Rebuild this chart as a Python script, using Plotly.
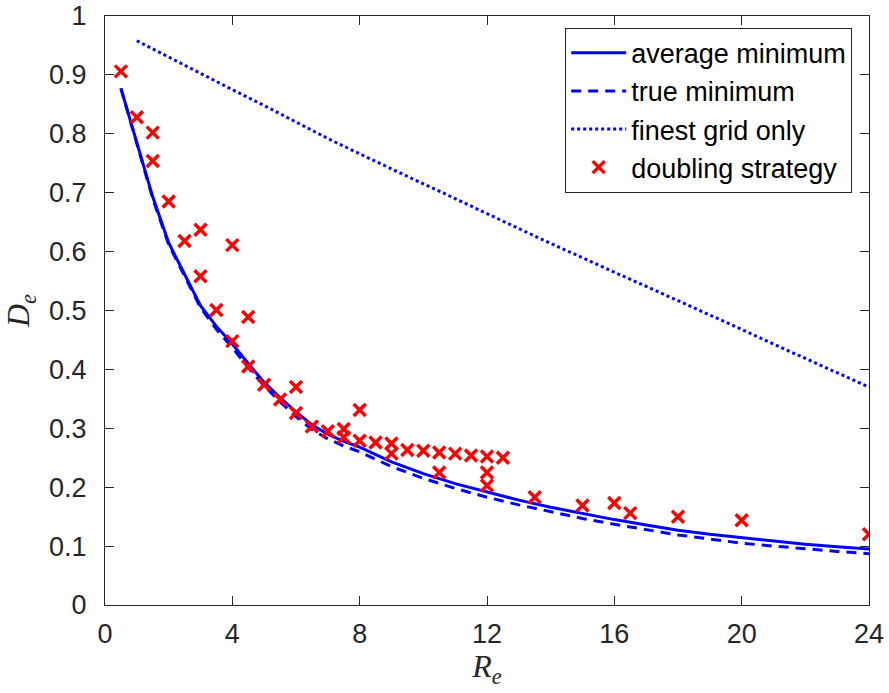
import plotly.graph_objects as go

# Average minimum of D_e over R_e
avg_x = [0.5, 1, 1.5, 2, 2.5, 3, 3.5, 4, 4.5, 5, 5.5, 6, 6.5, 7, 7.5, 8, 9, 10,
         11, 12, 13, 14, 15, 16, 17, 18, 19, 20, 21, 22, 23, 24]
avg_y = [0.877, 0.785, 0.693, 0.615, 0.562, 0.508, 0.473, 0.443, 0.410, 0.378,
         0.352, 0.328, 0.306, 0.290, 0.278, 0.268, 0.243, 0.223, 0.206, 0.192,
         0.178, 0.166, 0.155, 0.145, 0.136, 0.127, 0.120, 0.114, 0.108, 0.103,
         0.099, 0.095]

# True minimum
true_x = avg_x
true_y = [0.877, 0.785, 0.690, 0.612, 0.558, 0.505, 0.468, 0.437, 0.403, 0.372,
          0.345, 0.320, 0.298, 0.282, 0.270, 0.260, 0.235, 0.215, 0.198, 0.183,
          0.170, 0.158, 0.147, 0.137, 0.128, 0.119, 0.112, 0.105, 0.100, 0.095,
          0.091, 0.087]

# Finest grid only
fine_x = list(range(1, 25))
fine_y = [0.958, 0.930, 0.902, 0.875, 0.848, 0.820, 0.792, 0.766, 0.740, 0.715,
          0.690, 0.664, 0.639, 0.614, 0.589, 0.565, 0.541, 0.517, 0.493, 0.468,
          0.443, 0.419, 0.394, 0.370]

# Doubling strategy samples
dbl_x = [0.5, 1, 1.5, 1.5, 2, 2.5, 3, 3, 3.5, 4, 4, 4.5, 4.5, 5, 5.5, 6, 6,
         6.5, 7, 7.5, 7.5, 8, 8, 8.5, 9, 9, 9.5, 10, 10.5, 10.5, 11, 11.5,
         12, 12, 12, 12.5, 13.5, 15, 16, 16.5, 18, 20, 24]
dbl_y = [0.906, 0.828, 0.802, 0.754, 0.685, 0.618, 0.637, 0.558, 0.501, 0.611,
         0.448, 0.489, 0.405, 0.374, 0.349, 0.370, 0.326, 0.303, 0.295, 0.299,
         0.285, 0.331, 0.279, 0.276, 0.274, 0.257, 0.263, 0.262, 0.259, 0.225,
         0.257, 0.254, 0.252, 0.225, 0.203, 0.250, 0.183, 0.169, 0.173, 0.156,
         0.150, 0.144, 0.120]

x_ticks = [0, 4, 8, 12, 16, 20, 24]
y_ticks = [0, 0.1, 0.2, 0.3, 0.4, 0.5, 0.6, 0.7, 0.8, 0.9, 1]
y_tick_text = ["0", "0.1", "0.2", "0.3", "0.4", "0.5", "0.6", "0.7", "0.8", "0.9", "1"]

BLUE = "#0000ff"
RED = "#ff0000"
AXIS = "#262626"
SANS = "Liberation Sans, Arial, sans-serif"
SERIF = "Liberation Serif, Times New Roman, serif"

fig = go.Figure()
fig.add_trace(go.Scatter(x=avg_x, y=avg_y, mode="lines", name="average minimum",
                         line=dict(color=BLUE, width=3)))
fig.add_trace(go.Scatter(x=true_x, y=true_y, mode="lines", name="true minimum",
                         line=dict(color=BLUE, width=3, dash="10px,7px")))
fig.add_trace(go.Scatter(x=fine_x, y=fine_y, mode="lines", name="finest grid only",
                         line=dict(color=BLUE, width=3, dash="3px,3px")))
fig.add_trace(go.Scatter(x=dbl_x, y=dbl_y, mode="markers", name="doubling strategy",
                         marker=dict(symbol="x-thin", size=12, color=RED,
                                     line=dict(color=RED, width=3.5))))

axis_common = dict(
    showline=True, linecolor=AXIS, linewidth=1.2, mirror="allticks",
    ticks="inside", ticklen=9, tickcolor=AXIS, tickwidth=1.2,
    showgrid=False, zeroline=False, ticklabeloverflow="allow", automargin=False,
    tickfont=dict(family=SANS, size=27, color=AXIS),
)

fig.update_layout(
    width=889, height=693,
    margin=dict(l=105, r=20, t=16, b=88),
    paper_bgcolor="white", plot_bgcolor="white",
    showlegend=True,
    legend=dict(
        x=0.978, y=0.98, xanchor="right", yanchor="top",
        bgcolor="white", bordercolor=AXIS, borderwidth=1,
        font=dict(family=SANS, size=27, color="#000000"),
        itemwidth=55, tracegroupgap=0,
    ),
    xaxis=dict(
        range=[0, 24], tickvals=x_ticks, ticklabelstandoff=4,
        title=dict(text="<i>R</i><sub><i>e</i></sub>", standoff=4,
                   font=dict(family=SERIF, size=32, color=AXIS)),
        **axis_common,
    ),
    yaxis=dict(
        range=[0, 1], tickvals=y_ticks, ticktext=y_tick_text, ticklabelstandoff=12,
        title=dict(text="<i>D</i><sub><i>e</i></sub>", standoff=10,
                   font=dict(family=SERIF, size=32, color=AXIS)),
        **axis_common,
    ),
)

fig.write_html("out.html")
